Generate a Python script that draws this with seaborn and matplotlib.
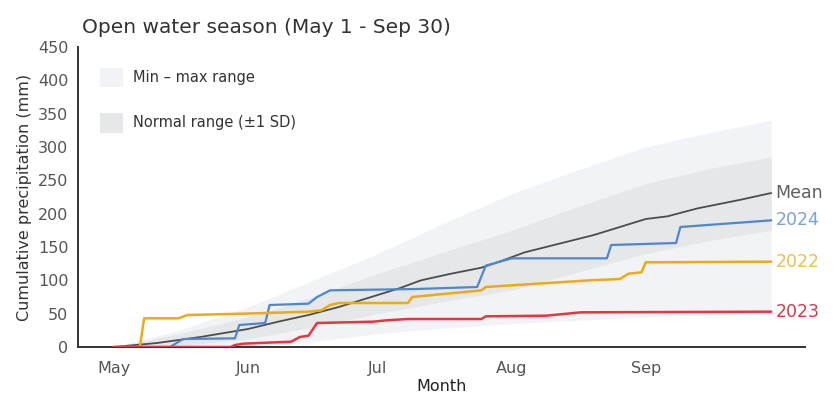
import matplotlib
matplotlib.use("Agg")
import matplotlib.pyplot as plt
import matplotlib.patches as mpatches
import numpy as np
import pandas as pd
import seaborn as sns

# Day of season, counted from May 1 (day 0) to Sep 30 (day 152)
month_ticks = [0, 31, 61, 92, 123]
month_labels = ["May", "Jun", "Jul", "Aug", "Sep"]

# Climatology envelope (mm)
band_days = [0, 15, 31, 46, 61, 76, 92, 107, 123, 138, 152]
band_max = [0, 25, 60, 100, 140, 185, 230, 265, 300, 322, 340]
band_min = [0, 0, 0, 8, 20, 28, 35, 40, 45, 48, 50]
sd_upper = [0, 20, 45, 75, 110, 142, 175, 210, 245, 268, 285]
sd_lower = [0, 2, 12, 30, 50, 68, 85, 112, 140, 160, 175]

# Mean cumulative precipitation (mm)
mean_days = [0, 10, 20, 31, 38, 45, 52, 61, 66, 71, 78, 85, 90, 95, 103, 111, 118, 123, 128, 135, 145, 152]
mean_vals = [0, 6, 15, 27, 38, 48, 60, 78, 88, 100, 110, 119, 130, 142, 155, 168, 182, 192, 196, 208, 221, 231]

# Individual seasons (mm)
days_2022 = [0, 6, 7, 15, 17, 30, 45, 48, 50, 52, 68, 69, 85, 86, 110, 117, 119, 122, 123, 152]
vals_2022 = [0, 0, 43, 43, 48, 50, 53, 55, 63, 66, 66, 75, 85, 90, 100, 102, 110, 112, 127, 128]

days_2023 = [0, 27, 28, 30, 41, 43, 45, 47, 60, 63, 68, 85, 86, 100, 108, 152]
vals_2023 = [0, 0, 3, 5, 8, 15, 17, 36, 38, 40, 42, 42, 46, 47, 52, 53]

days_2024 = [0, 13, 16, 28, 29, 35, 36, 45, 47, 50, 70, 84, 86, 92, 114, 115, 130, 131, 152]
vals_2024 = [0, 0, 12, 13, 33, 36, 63, 65, 75, 85, 87, 90, 122, 133, 133, 153, 156, 180, 190]

series = [
    ("Mean", mean_days, mean_vals, "#4d4d4d", "#5f5f5f", 1.3),
    ("2024", days_2024, vals_2024, "#4f86d0", "#78a3d3", 1.6),
    ("2022", days_2022, vals_2022, "#eeaa14", "#e3c448", 1.8),
    ("2023", days_2023, vals_2023, "#e8353f", "#d23a4c", 1.8),
]

minmax_color = "#f1f3f6"
sd_color = "#e5e7e9"

sns.set_theme(style="white")
plt.rcParams["font.family"] = ["DejaVu Sans"]

fig = plt.figure(figsize=(8.35, 4.0), dpi=100)
ax = fig.add_axes([0.0934, 0.1325, 0.8706, 0.75])

ax.fill_between(band_days, band_min, band_max, color=minmax_color, lw=0, zorder=1)
ax.fill_between(band_days, sd_lower, sd_upper, color=sd_color, lw=0, zorder=2)

for name, d, v, c, tc, lw in series:
    df = pd.DataFrame({"day": d, "mm": v})
    sns.lineplot(data=df, x="day", y="mm", ax=ax, color=c, lw=lw, zorder=4)
    ax.text(d[-1] + 1.0, v[-1], name, color=tc, fontsize=12.5,
            ha="left", va="center", zorder=5)

ax.set_xlim(-8.3, 159.8)
ax.set_ylim(0, 450)
ax.set_yticks(np.arange(0, 451, 50))
ax.set_xticks(month_ticks)
ax.set_xticklabels(month_labels)

for s in ["top", "right"]:
    ax.spines[s].set_visible(False)
for s in ["left", "bottom"]:
    ax.spines[s].set_color("#333333")
    ax.spines[s].set_linewidth(1.4)

ax.tick_params(axis="both", direction="out", length=5, width=1.2,
               color="#333333", labelsize=11.5, labelcolor="#555555", pad=2)
ax.tick_params(axis="x", pad=5)

ax.set_xlabel("Month", fontsize=11.5, color="#222222", labelpad=2)
ax.set_ylabel("Cumulative precipitation (mm)", fontsize=11.5, color="#333333", labelpad=4)

fig.text(0.098, 0.932, "Open water season (May 1 - Sep 30)", fontsize=14.5,
         color="#333333", ha="left", va="center")

# Legend for the shaded envelopes
handles = [
    mpatches.Patch(facecolor=minmax_color, edgecolor="none", label="Min – max range"),
    mpatches.Patch(facecolor=sd_color, edgecolor="none", label="Normal range (±1 SD)"),
]
ax.legend(handles=handles, loc="upper left", bbox_to_anchor=(0.012, 0.975),
          frameon=False, fontsize=10.5, handlelength=1.6, handleheight=1.7,
          labelspacing=1.75, handletextpad=0.7, labelcolor="#333333")

fig.savefig("out.png", dpi=100, facecolor="white")
